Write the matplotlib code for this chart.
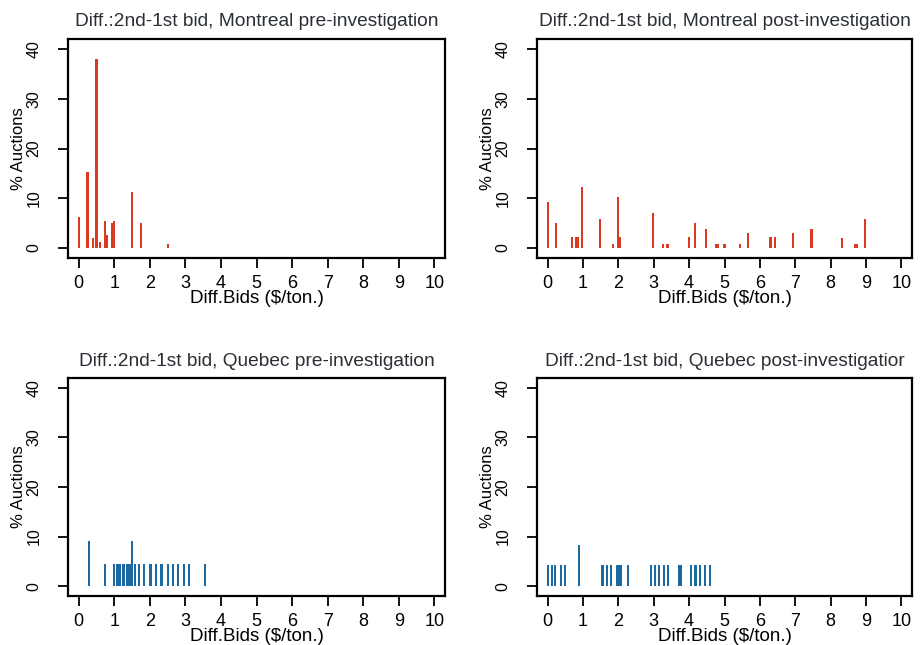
import numpy as np
import matplotlib
matplotlib.use("Agg")
import matplotlib.pyplot as plt

plt.rcParams['font.family'] = ['Liberation Sans', 'DejaVu Sans']

# Differences between 2nd and 1st bid ($/ton) and share of auctions (%)
mtl_pre_x = [0.0, 0.25, 0.4, 0.5, 0.6, 0.75, 0.8, 0.95, 1.0, 1.5, 1.75, 2.5]
mtl_pre_y = [6.2, 15.2, 2.0, 38.0, 1.3, 5.4, 2.6, 5.1, 5.4, 11.3, 5.1, 0.9]

mtl_post_x = [0.0, 0.23, 0.69, 0.8, 0.87, 0.98, 1.49, 1.84, 2.0, 2.05, 2.99, 3.26,
              3.39, 4.0, 4.17, 4.47, 4.75, 4.81, 5.0, 5.45, 5.67, 6.3, 6.42, 6.94,
              7.46, 8.32, 8.68, 8.74, 8.97]
mtl_post_y = [9.3, 5.1, 2.2, 2.2, 2.2, 12.2, 5.9, 0.9, 10.2, 2.2, 7.1, 0.9,
              0.9, 2.2, 5.1, 3.9, 0.9, 0.9, 0.9, 0.9, 3.0, 2.2, 2.2, 3.0,
              3.9, 2.0, 0.9, 0.9, 5.9]

qc_pre_x = [0.28, 0.73, 1.0, 1.09, 1.17, 1.26, 1.36, 1.43, 1.49, 1.58, 1.70, 1.84,
            2.02, 2.17, 2.33, 2.51, 2.65, 2.79, 2.95, 3.10, 3.54]
qc_pre_y = [9.1, 4.5, 4.5, 4.5, 4.5, 4.5, 4.5, 4.5, 9.1, 4.5, 4.5, 4.5,
            4.5, 4.5, 4.5, 4.5, 4.5, 4.5, 4.5, 4.5, 4.5]

qc_post_x = [0.0, 0.12, 0.22, 0.38, 0.5, 0.88, 1.55, 1.68, 1.79, 1.96, 2.02, 2.07,
             2.26, 2.92, 3.04, 3.16, 3.28, 3.4, 3.72, 3.76, 4.05, 4.18, 4.31, 4.45, 4.6]
qc_post_y = [4.2, 4.2, 4.2, 4.2, 4.2, 8.3, 4.2, 4.2, 4.2, 4.2, 4.2, 4.2,
             4.2, 4.2, 4.2, 4.2, 4.2, 4.2, 4.2, 4.2, 4.2, 4.2, 4.2, 4.2, 4.2]

titles = ["Diff.:2nd-1st bid, Montreal pre-investigation",
          "Diff.:2nd-1st bid, Montreal post-investigation",
          "Diff.:2nd-1st bid, Quebec pre-investigation",
          "Diff.:2nd-1st bid, Quebec post-investigatior"]

red = '#d83a22'
blue = '#1d6aa0'

W, H = 921, 645
fig = plt.figure(figsize=(W / 100, H / 100), dpi=100)

# axes boxes in pixels: left, top, right, bottom
boxes = [(68, 39, 445, 258), (537, 39, 912, 258),
         (68, 378, 445, 596), (537, 378, 912, 596)]
series = [(mtl_pre_x, mtl_pre_y, red), (mtl_post_x, mtl_post_y, red),
          (qc_pre_x, qc_pre_y, blue), (qc_post_x, qc_post_y, blue)]

for (l, t, r, b), (xs, ys, col), title in zip(boxes, series, titles):
    ax = fig.add_axes([l / W, 1 - b / H, (r - l) / W, (b - t) / H])
    ax.bar(xs, ys, width=0.06, color=col, linewidth=0)
    ax.set_xlim(-0.3, 10.3)
    ax.set_ylim(-2, 42)
    ax.set_xticks(range(0, 11))
    ax.set_yticks([0, 10, 20, 30, 40])
    ax.tick_params(direction='out', length=7, width=1.3)
    ax.tick_params(axis='x', pad=5, labelsize=13)
    ax.tick_params(axis='y', pad=12, labelsize=11.5)
    for lbl in ax.get_yticklabels():
        lbl.set_rotation(90)
        lbl.set_va('center')
    for sp in ax.spines.values():
        sp.set_linewidth(1.6)
    ax.set_title(title, fontsize=13.8, color='#2a2f36', pad=9)
    ax.set_xlabel('Diff.Bids ($/ton.)', fontsize=13.5, labelpad=-1)
    ax.set_ylabel('% Auctions', fontsize=12)
    # label sits left of the rotated tick labels
    ax.yaxis.set_label_coords(-42 / (r - l), 0.5)

fig.savefig('out.png', dpi=100)
